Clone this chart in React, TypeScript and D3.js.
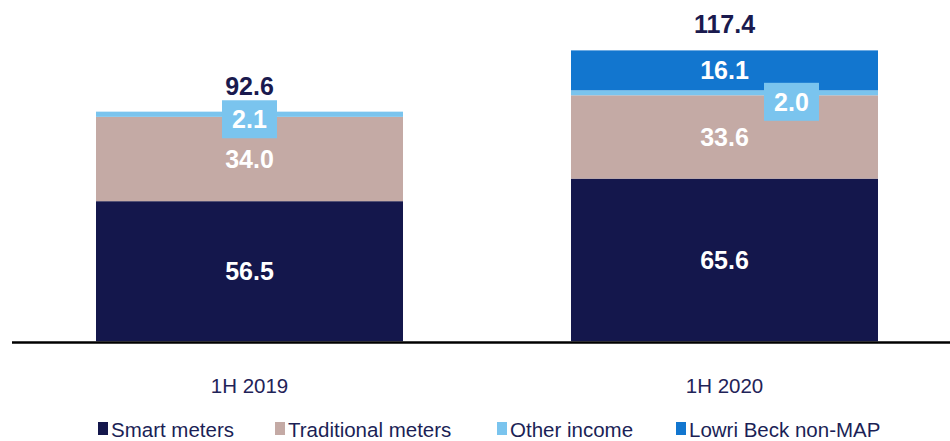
import React from "react";
import * as d3 from "d3";

const categories = ["1H 2019", "1H 2020"];
const seriesNames = ["Smart meters", "Traditional meters", "Other income", "Lowri Beck non-MAP"];
const smartMeters = [56.5, 65.6];
const traditionalMeters = [34.0, 33.6];
const otherIncome = [2.1, 2.0];
const lowriBeck = [0, 16.1];
const totals = [92.6, 117.4];

const colors = ["#14174c", "#c4aaa5", "#7ac4ee", "#1276cf"];
const FONT = "'Liberation Sans', Arial, Helvetica, sans-serif";

// offsets of the boxed "Other income" callouts relative to their segment centre
const calloutDx = [0, 67];
const calloutDy = [5, 9];

export default function App() {
  const W = 950;
  const H = 441;
  const baseY = 341.3;

  const rows = categories.map((c, i) => ({
    cat: c,
    "Smart meters": smartMeters[i],
    "Traditional meters": traditionalMeters[i],
    "Other income": otherIncome[i],
    "Lowri Beck non-MAP": lowriBeck[i],
  }));

  const stack = d3.stack<any>().keys(seriesNames);
  const layers = stack(rows);

  const x = d3.scaleBand<string>().domain(categories).range([96, 878]).paddingInner(0.3537).paddingOuter(0);
  const y = d3.scaleLinear().domain([0, 120]).range([baseY, baseY - 120 * 2.48]);

  const legendX = [98, 275, 497, 676];

  return (
    <svg
      width={W}
      height={H}
      style={{ position: "absolute", left: 0, top: 0, background: "#fff" }}
      fontFamily={FONT}
    >
      {layers.map((layer, si) =>
        layer.map((d, ci) => {
          const h = y(d[0]) - y(d[1]);
          if (h <= 0) return null;
          return (
            <rect
              key={`${si}-${ci}`}
              x={x(categories[ci])}
              y={y(d[1])}
              width={x.bandwidth()}
              height={h}
              fill={colors[si]}
            />
          );
        })
      )}

      <line x1={12} x2={950} y1={342.5} y2={342.5} stroke="#000" strokeWidth={2.5} />

      {/* segment labels */}
      {layers.map((layer, si) =>
        layer.map((d, ci) => {
          const v = d[1] - d[0];
          if (v <= 0) return null;
          const cx = (x(categories[ci]) as number) + x.bandwidth() / 2;
          const cy = (y(d[0]) + y(d[1])) / 2;
          if (seriesNames[si] === "Other income") {
            const bx = cx + calloutDx[ci];
            const by = cy + calloutDy[ci];
            return (
              <g key={`l-${si}-${ci}`}>
                <rect x={bx - 27.5} y={by - 19} width={55} height={38} fill={colors[si]} />
                <text
                  x={bx}
                  y={by}
                  dy="0.36em"
                  textAnchor="middle"
                  fill="#fff"
                  fontWeight="bold"
                  fontSize={25}
                >
                  {v.toFixed(1)}
                </text>
              </g>
            );
          }
          return (
            <text
              key={`l-${si}-${ci}`}
              x={cx}
              y={cy}
              dy="0.36em"
              textAnchor="middle"
              fill="#fff"
              fontWeight="bold"
              fontSize={25}
            >
              {v.toFixed(1)}
            </text>
          );
        })
      )}

      {/* totals */}
      {categories.map((c, i) => (
        <text
          key={`t-${c}`}
          x={(x(c) as number) + x.bandwidth() / 2}
          y={y(totals[i]) - 17}
          textAnchor="middle"
          fill="#1a1a4e"
          fontWeight="bold"
          fontSize={25}
        >
          {totals[i].toFixed(1)}
        </text>
      ))}

      {/* category labels */}
      {categories.map((c) => (
        <text
          key={`c-${c}`}
          x={(x(c) as number) + x.bandwidth() / 2}
          y={392.5}
          textAnchor="middle"
          fill="#1f2358"
          fontSize={20.5}
        >
          {c}
        </text>
      ))}

      {/* legend */}
      {seriesNames.map((s, i) => (
        <g key={`lg-${s}`}>
          <rect x={legendX[i]} y={422} width={10} height={13} fill={colors[i]} />
          <text x={legendX[i] + 13} y={436.5} fill="#1b1f56" fontSize={20.5}>
            {s}
          </text>
        </g>
      ))}
    </svg>
  );
}
